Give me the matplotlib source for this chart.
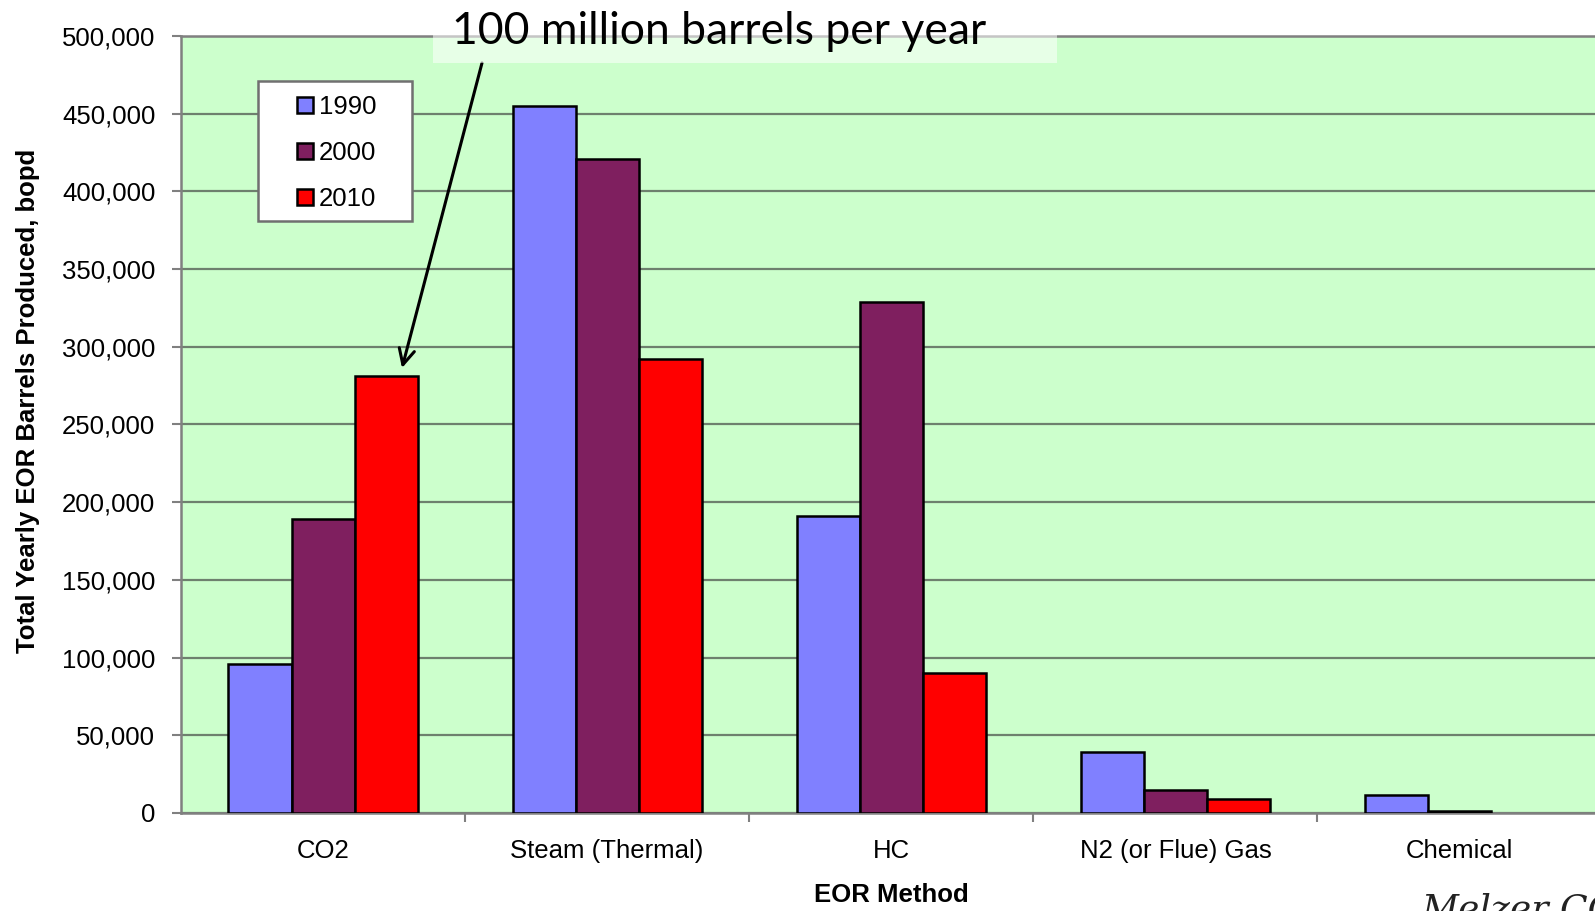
import numpy as np
import matplotlib
matplotlib.use("Agg")
import matplotlib.pyplot as plt
from matplotlib.patches import Rectangle

methods = ["CO2", "Steam (Thermal)", "HC", "N2 (or Flue) Gas", "Chemical"]
years = ["1990", "2000", "2010"]
bopd_1990 = [96000, 455000, 191000, 39500, 11800]
bopd_2000 = [189000, 421000, 329000, 15000, 1500]
bopd_2010 = [281000, 292000, 90000, 9200, 0]
colors = ["#8080FF", "#7F1F5F", "#FF0000"]

plt.rcParams["font.family"] = ["Liberation Sans", "DejaVu Sans"]

W, H = 1595, 911
fig = plt.figure(figsize=(15.95, 9.11), dpi=100)
ax = fig.add_axes([0.1135, 0.1076, 0.8906, 0.8529])
ax.set_facecolor("#CCFFCC")

x = np.arange(len(methods))
w = 0.222
for i, (vals, c, yr) in enumerate(zip([bopd_1990, bopd_2000, bopd_2010], colors, years)):
    edges = ["black" if v > 0 else "none" for v in vals]
    ax.bar(x + (i - 1) * w, vals, width=w, color=c, edgecolor=edges,
           linewidth=1.8, label=yr, zorder=3)

ax.set_xlim(-0.5, len(methods) - 0.5)
ax.set_ylim(0, 500000)
ax.set_yticks(np.arange(0, 500001, 50000))
ax.set_yticklabels([f"{v:,}" for v in range(0, 500001, 50000)], fontsize=18.5)
ax.yaxis.grid(True, color="#6E806E", linewidth=1.6, zorder=1)

ax.set_xticks(np.arange(0.5, len(methods) - 0.5, 1.0))
ax.set_xticklabels([])
ax.set_xticks(x, minor=True)
ax.set_xticklabels(methods, minor=True, fontsize=18.5)
ax.tick_params(axis="x", which="minor", length=0, pad=19)
ax.tick_params(axis="both", which="major", length=6.5, width=1.5, color="#808080")
ax.tick_params(axis="y", pad=12)

for s in ["left", "bottom", "top"]:
    ax.spines[s].set_color("#808080")
    ax.spines[s].set_linewidth(1.8)
ax.spines["right"].set_visible(False)

ax.set_ylabel("Total Yearly EOR Barrels Produced, bopd", fontsize=18.5,
              fontweight="bold")
ax.yaxis.set_label_coords(-0.099, 0.53)
ax.set_xlabel("EOR Method", fontsize=18.5, fontweight="bold", labelpad=14)

# legend: white box drawn by hand, entries centred inside it
fig.patches.append(Rectangle((258 / W, 1 - 221 / H), 154 / W, 140 / H,
                             transform=fig.transFigure, facecolor="white",
                             edgecolor="#707070", linewidth=1.8, zorder=4))
leg = fig.legend(loc="center", bbox_to_anchor=(337 / W, 1 - 153 / H), fontsize=18.5,
                 frameon=False, handlelength=0.6, handleheight=0.6,
                 handletextpad=0.25, labelspacing=0.85)
leg.set_zorder(5)

# note box at the top, overlapping the plot frame
fig.patches.append(Rectangle((433 / W, 1 - 63 / H), 624 / W, 60 / H,
                             transform=fig.transFigure, facecolor="white",
                             alpha=0.55, edgecolor="none", zorder=5))
fig.text(452 / W, 1 - 31 / H, "100 million barrels per year", fontsize=32,
         family=["Lato", "DejaVu Sans"], va="center", ha="left", zorder=6)
ax.annotate("", xy=(402 / W, 1 - 368 / H), xycoords="figure fraction",
            xytext=(482 / W, 1 - 63 / H), textcoords="figure fraction",
            arrowprops=dict(arrowstyle="->", color="black", lw=2.2,
                            mutation_scale=28, shrinkA=0, shrinkB=0),
            zorder=7, annotation_clip=False)

fig.text(1422 / W, 1 - 893 / H, "Melzer CO2", fontsize=26,
         family="DejaVu Serif", style="italic", va="top", ha="left",
         color="#222222")

fig.savefig("out.png", dpi=100)
